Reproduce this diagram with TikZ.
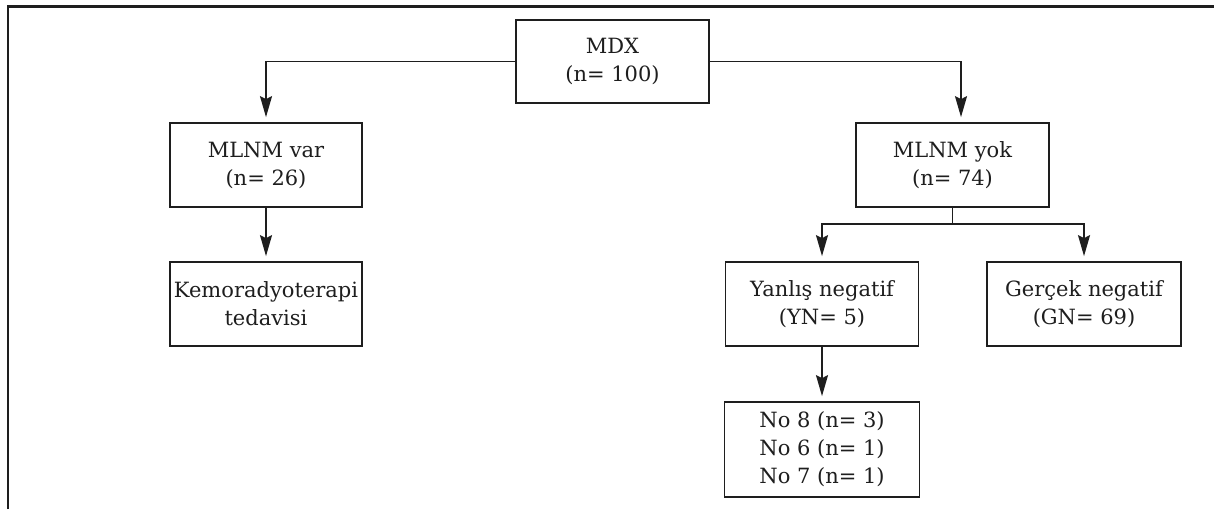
\documentclass[tikz,border=0pt]{standalone}
\usepackage{fontspec}
\setmainfont{DejaVu Serif}
\usetikzlibrary{arrows.meta}
\definecolor{ink}{HTML}{1E1E1E}
\tikzset{
  box/.style={draw=ink, line width=1.7pt, fill=white, align=center, text=ink,
    font=\fontsize{21}{28}\selectfont, inner sep=0pt},
  arr/.style={draw=ink, line width=1.7pt, -{Stealth[length=21pt,width=12pt,inset=3pt]}, shorten >=5pt},
  conn/.style={draw=ink, line width=1.7pt}
}
\begin{document}
\begin{tikzpicture}[x=1pt,y=-1pt]
\useasboundingbox (0,0) rectangle (1214,509);
\draw[draw=ink, line width=2.2pt] (8,509) -- (8,6.5) -- (1214,6.5);
\node[box, minimum width=193pt, minimum height=83pt] (mdx) at (612.5,61.5) {MDX\\(n= 100)};
\node[box, minimum width=192pt, minimum height=84pt] (var) at (266,165) {MLNM var\\(n= 26)};
\node[box, minimum width=192pt, minimum height=84pt] (kemo) at (266,304) {Kemoradyoterapi\\tedavisi};
\node[box, minimum width=193pt, minimum height=84pt] (yok) at (952.5,165) {MLNM yok\\(n= 74)};
\node[box, minimum width=193pt, minimum height=84pt] (yan) at (822,304) {Yanlış negatif\\(YN= 5)};
\node[box, minimum width=194pt, minimum height=84pt] (ger) at (1084,304) {Gerçek negatif\\(GN= 69)};
\node[box, minimum width=195pt, minimum height=95pt] (no) at (822,449.5) {No 8 (n= 3)\\No 6 (n= 1)\\No 7 (n= 1)};
\coordinate (yokin) at ([xshift=8.5pt]yok.north);
\draw[arr] (mdx.west) -| (var.north);
\draw[arr] (mdx.east) -| (yokin);
\draw[arr] (var.south) -- (kemo.north);
\draw[arr] (yok.south) -- ++(0,16) -| (yan.north);
\draw[arr] (yok.south) -- ++(0,16) -| (ger.north);
\draw[arr] (yan.south) -- (no.north);
\end{tikzpicture}
\end{document}
